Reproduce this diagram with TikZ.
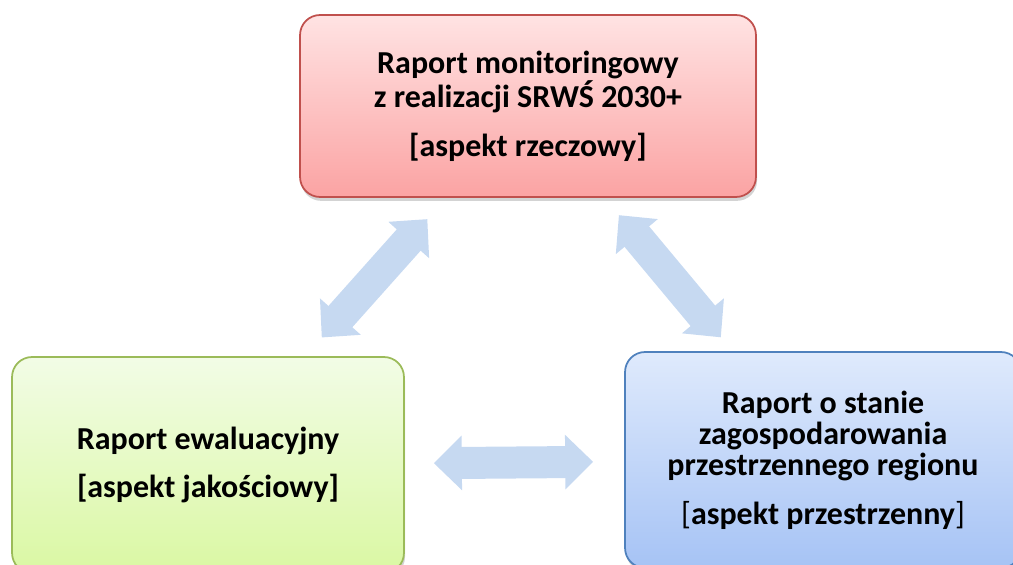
\documentclass[tikz,border=0pt]{standalone}
\usepackage{fontspec}
\setmainfont{Carlito}
\usetikzlibrary{arrows.meta, shadows}

\definecolor{redline}{HTML}{C0504D}
\definecolor{redtop}{HTML}{FFE3E3}
\definecolor{redbot}{HTML}{FBA3A3}
\definecolor{greenline}{HTML}{9BBB59}
\definecolor{greentop}{HTML}{F2FCE6}
\definecolor{greenbot}{HTML}{DAF8A3}
\definecolor{blueline}{HTML}{4F81BD}
\definecolor{bluetop}{HTML}{DFEAFC}
\definecolor{bluebot}{HTML}{A6C3F5}
\definecolor{arrowblue}{HTML}{C6D9F1}

\begin{document}
\begin{tikzpicture}[
    x=0.02cm, y=-0.02cm,
    report/.style={rectangle, rounded corners=0.4cm, line width=1pt, align=center,
        font=\bfseries\fontsize{18.2}{17.8}\selectfont,
        drop shadow={opacity=0.35, shadow xshift=0.6pt, shadow yshift=-2.2pt}},
    link/.style={line width=0.64cm, draw=arrowblue,
        {Triangle[length=0.56cm, width=1.06cm]}-{Triangle[length=0.56cm, width=1.06cm]}}
]
    \useasboundingbox (0,0) rectangle (1013,564);
    \clip (0,0) rectangle (1013,564);

    \node[report, draw=redline, top color=redtop, bottom color=redbot,
        minimum width=9.12cm, minimum height=3.64cm] (monit) at (528,106)
        {Raport monitoringowy\\z realizacji SRWŚ 2030+\\[10pt]{[aspekt rzeczowy]}};
    \node[report, draw=greenline, top color=greentop, bottom color=greenbot,
        minimum width=7.84cm, minimum height=4.32cm] (ewal) at (208,465)
        {Raport ewaluacyjny\\[10pt]{[aspekt jakościowy]}};
    \node[report, draw=blueline, top color=bluetop, bottom color=bluebot,
        minimum width=7.92cm, minimum height=4.32cm] (przes) at (823,460)
        {Raport o stanie\\zagospodarowania\\przestrzennego regionu\\[10pt]{{\mdseries[}aspekt przestrzenny{\mdseries]}}};

    \draw[link, shorten <=0.5cm, shorten >=0.57cm] (ewal) -- (monit);
    \draw[link, shorten <=0.45cm, shorten >=0.36cm] (monit) -- (przes);
    \draw[link, shorten <=0.58cm, shorten >=0.62cm] (ewal) -- (przes);
\end{tikzpicture}
\end{document}
